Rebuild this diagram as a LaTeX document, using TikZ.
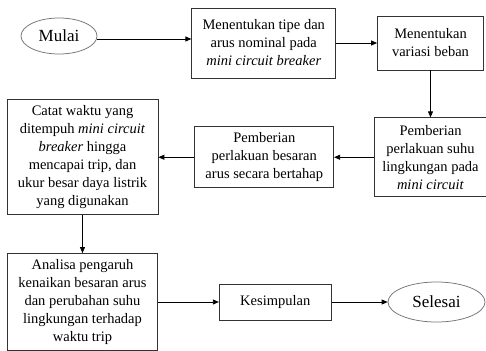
\documentclass[tikz,border=0pt]{standalone}
\usepackage{fontspec}
\setmainfont{Liberation Serif}
\usepackage{tikz}
\usetikzlibrary{arrows.meta, positioning, shapes.geometric}

\begin{document}
\begin{tikzpicture}[
  x=1pt, y=1pt,
  font=\rmfamily\fontsize{14.5}{18}\selectfont,
  box/.style={draw=black!80, align=center, inner sep=2pt, line width=0.75pt},
  term/.style={draw=black!55, ellipse, minimum width=76pt, minimum height=36pt,
               font=\rmfamily\fontsize{17}{20}\selectfont, line width=0.75pt},
  arr/.style={-{Triangle[length=6pt, width=5pt]}, line width=0.8pt},
  node distance=47pt and 94pt
]
  \useasboundingbox (0,0) rectangle (486,-350);

  \node[term] (mulai) at (59,-36) {Mulai};
  \node[box, minimum width=144pt, minimum height=70pt, right=94pt of mulai, yshift=-7pt] (tipe)
    {Menentukan tipe dan\\arus nominal pada\\\textit{mini circuit breaker}};
  \node[box, minimum width=106pt, minimum height=54pt, right=41pt of tipe] (beban)
    {Menentukan\\variasi beban};
  \node[box, minimum width=112pt, minimum height=79pt, below=47pt of beban] (suhu)
    {Pemberian\\perlakuan suhu\\lingkungan pada\\\textit{mini circuit}};
  \node[box, minimum width=139pt, minimum height=61pt, left=40pt of suhu] (arus)
    {Pemberian\\perlakuan besaran\\arus secara bertahap};
  \node[box, minimum width=151pt, minimum height=115pt, left=36pt of arus] (catat)
    {Catat waktu yang\\ditempuh \textit{mini circuit}\\\textit{breaker} hingga\\mencapai trip, dan\\ukur besar daya listrik\\yang digunakan};
  \node[box, minimum width=150pt, minimum height=97pt, below=38pt of catat] (analisa)
    {Analisa pengaruh\\kenaikan besaran arus\\dan perubahan suhu\\lingkungan terhadap\\waktu trip};
  \node[box, minimum width=112pt, minimum height=36pt, right=61pt of analisa] (kesimpulan)
    {Kesimpulan};
  \node[term, minimum width=97pt, minimum height=40pt, right=56pt of kesimpulan] (selesai)
    {Selesai};

  \draw[arr] (mulai.east) ++(0,-3pt) coordinate (mulaiout) -- (mulaiout -| tipe.west);
  \draw[arr] (tipe) -- (beban);
  \draw[arr] (beban) -- (suhu);
  \draw[arr] (suhu) -- (arus);
  \draw[arr] (arus) -- (catat);
  \draw[arr] (catat) -- (analisa);
  \draw[arr] (analisa) -- (kesimpulan);
  \draw[arr] (kesimpulan) -- (selesai);
\end{tikzpicture}
\end{document}
